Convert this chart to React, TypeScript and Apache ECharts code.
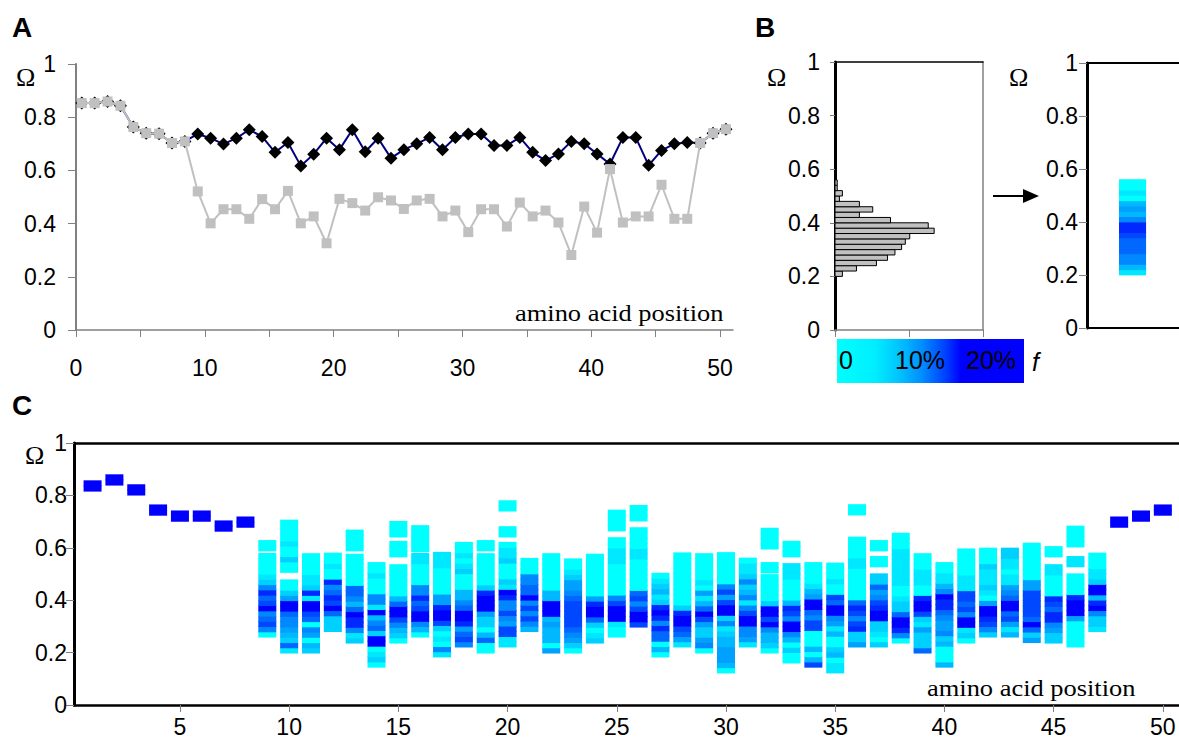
import React, { useEffect, useRef } from "react";
import * as echarts from "echarts";

// ---------- Panel A : Omega per amino acid position ----------
const sitesA = [0,1,2,3,4,5,6,7,8,9,10,11,12,13,14,15,16,17,18,19,20,21,22,23,24,25,26,27,28,29,30,31,32,33,34,35,36,37,38,39,40,41,42,43,44,45,46,47,48,49,50];
const omegaDiamond = [0.853,0.853,0.859,0.843,0.763,0.740,0.738,0.703,0.709,
  0.737,0.721,0.699,0.721,0.753,0.727,0.668,0.705,0.617,0.661,0.721,0.678,0.753,0.670,0.721,0.646,
  0.678,0.700,0.724,0.678,0.724,0.737,0.737,0.694,0.694,0.724,0.668,0.637,0.662,0.709,0.700,0.662,0.624,0.724,0.724,0.619,0.675,0.700,0.705,
  0.703,0.740,0.755];
const omegaSquare = [0.853,0.853,0.859,0.843,0.763,0.740,0.738,0.703,0.709,
  0.521,0.401,0.454,0.454,0.418,0.492,0.454,0.523,0.401,0.427,0.326,0.493,0.477,0.449,0.499,0.487,
  0.455,0.487,0.493,0.427,0.449,0.368,0.454,0.454,0.389,0.479,0.427,0.449,0.404,0.282,0.464,0.366,0.605,0.404,0.427,0.427,0.546,0.418,0.418,
  0.703,0.740,0.755];
const xTicksA = [0,5,10,15,20,25,30,35,40,45,50];
const xLabelsA = [0,10,20,30,40,50];

// ---------- Panel B : histogram of Omega and pooled column ----------
const histOmegaLow = [0.20,0.22,0.24,0.26,0.28,0.30,0.32,0.34,0.36,0.38,0.40,0.42,0.44,0.46,0.48,0.50,0.52,0.54];
const histFreqPct = [1.0,2.9,5.6,7.1,8.1,9.0,9.5,10.1,13.4,12.6,7.5,3.3,5.1,3.3,0.6,1.0,0.3,0.3];
const histXTicks = [0,10,20];
// pooled column: [x in box, bottom Omega, colour level (0 = cyan … 9 = blue) of each 0.02 bin upward]
const pooledBlocks: [number, number, string][] = [[0.495, 0.20, "135566678853430100"]];

// ---------- Panel C : per-position distributions ----------
// [position, bottom Omega of block, colour level of each 0.02 bin upward]
const cBlocks: [number, number, string][] = [
  [1,0.816,"99"],[2,0.839,"99"],[3,0.801,"99"],[4,0.724,"99"],[5,0.701,"99"],[6,0.701,"99"],[7,0.663,"99"],[8,0.678,"99"],
  [9,0.259,"0576597685210000"],[9,0.588,"00"],
  [10,0.198,"16234556994200"],[10,0.506,"0020010000"],
  [11,0.198,"2304506799182110000"],
  [12,0.280,"222697865800100"],
  [13,0.236,"21588963566000000"],[13,0.588,"0000"],
  [14,0.144,"02109926539155000100"],
  [15,0.236,"023579963000000"],[15,0.565,"000"],[15,0.641,"000"],
  [16,0.259,"0359976855000011"],[16,0.585,"00000"],
  [17,0.183,"15010279984400000111"],
  [18,0.221,"57648996533000210100"],
  [19,0.198,"0063022499982000000"],[19,0.588,"00"],
  [20,0.221,"11774575589120002110"],[20,0.641,"00"],[20,0.740,"00"],
  [21,0.280,"35757596655000"],
  [22,0.198,"4033343999330000000"],
  [23,0.198,"024567777765442100"],
  [24,0.236,"21026998400000000"],
  [25,0.259,"0019997500000011100"],[25,0.664,"0000"],
  [26,0.297,"7997576000000110000"],[26,0.702,"000"],
  [27,0.183,"0306685898213210"],
  [28,0.221,"146799820000000000"],
  [29,0.198,"0542247963140100000"],
  [30,0.122,"03444332152997475000000"],
  [31,0.221,"14559975153252110"],
  [32,0.198,"023359799200000"],[32,0.504,"00"],[32,0.595,"0000"],
  [33,0.160,"0020359957830000111"],[33,0.565,"000"],
  [34,0.144,"73030007756994310000"],
  [35,0.122,"110320031459967001000"],
  [36,0.221,"422875786000000110000"],[36,0.725,"00"],
  [37,0.221,"20122998754622"],[37,0.527,"00"],[37,0.588,"00"],
  [38,0.236,"058996221001111111000"],
  [39,0.198,"6222412799800111000"],
  [40,0.144,"30003254456889531100"],
  [41,0.236,"021995767711100000"],
  [42,0.259,"25789940121112000"],
  [43,0.259,"31476996541101122"],
  [44,0.238,"4269677777440000000"],
  [45,0.236,"224588678000011"],[45,0.565,"00"],
  [46,0.221,"00000499980000"],[46,0.527,"11"],[46,0.603,"0000"],
  [47,0.280,"122598399211000"],
  [48,0.678,"99"],[49,0.701,"99"],[50,0.724,"99"],
];
const xTicksC = [5,10,15,20,25,30,35,40,45,50];
// colour for levels 0..9
const levelColors = ["#00FFFF","#00E8FF","#00D0FF","#00B8FF","#00A0FF","#0088FF","#0068FF","#0048FF","#0028FF","#0000FF"];

const BIN = 0.02;
const SANS = "Liberation Sans, Arial, sans-serif";
const SERIF = "Liberation Serif, Times New Roman, serif";

function blocksToCells(blocks: [number, number, string][]) {
  const out: number[][] = [];
  blocks.forEach(([x, bottom, levels]) => {
    for (let j = 0; j < levels.length; j++) {
      const lo = bottom + j * BIN;
      out.push([x, lo, lo + BIN, Number(levels[j])]);
    }
  });
  return out;
}

function cellRender(halfW: number) {
  return (params: any, api: any) => {
    const x = api.value(0), lo = api.value(1), hi = api.value(2);
    const a = api.coord([x - halfW, hi]);
    const b = api.coord([x + halfW, lo]);
    return {
      type: "rect",
      shape: { x: a[0], y: a[1] - 0.4, width: b[0] - a[0], height: b[1] - a[1] + 0.8 },
      style: { fill: api.visual("color") },
    };
  };
}

const labelStyle = { fontFamily: SANS, fontSize: 23, color: "#000" };
const hidden = { axisTick: { show: false }, axisLabel: { show: false }, splitLine: { show: false } };

function txt(text: string, x: number, y: number, opts: any = {}) {
  const { scaleX, ...st } = opts;
  return {
    type: "text",
    x, y,
    scaleX: scaleX ?? 1,
    style: {
      text,
      fill: "#000",
      fontFamily: SANS,
      fontSize: 23,
      textAlign: "left",
      align: "left",
      textVerticalAlign: "middle",
      verticalAlign: "middle",
      ...st,
    },
  };
}

export default function App() {
  const ref = useRef<HTMLDivElement>(null);
  useEffect(() => {
    if (!ref.current) return;
    const chart = echarts.init(ref.current, undefined, { renderer: "svg" });
    const fmt = (v: number) => String(+Number(v).toFixed(2));

    const option: any = {
      animation: false,
      backgroundColor: "#fff",
      grid: [
        { left: 76, top: 64, width: 657, height: 266 },
        { left: 835, top: 62, width: 148, height: 268 },
        { left: 1087, top: 63, width: 92, height: 265 },
        { left: 74, top: 443, width: 1105, height: 263 },
      ],
      xAxis: [
        {
          gridIndex: 0, type: "value", min: 0, max: 51,
          axisLine: { lineStyle: { color: "#808080", width: 1.5 } },
          axisTick: { length: 7, lineStyle: { color: "#808080" }, customValues: xTicksA },
          axisLabel: { ...labelStyle, margin: 26, customValues: xLabelsA, formatter: fmt },
          splitLine: { show: false },
        },
        {
          gridIndex: 1, type: "value", min: 0, max: 20,
          axisLine: { lineStyle: { color: "#808080", width: 1.5 } },
          axisTick: { length: 7, lineStyle: { color: "#808080" }, customValues: histXTicks },
          axisLabel: { show: false },
          splitLine: { show: false },
        },
        {
          gridIndex: 1, type: "value", min: 0, max: 20, position: "top",
          axisLine: { show: true, onZero: false, lineStyle: { color: "#000", width: 1.5 } },
          ...hidden,
        },
        {
          gridIndex: 2, type: "value", min: 0, max: 1,
          axisLine: { show: true, lineStyle: { color: "#000", width: 2 } },
          ...hidden,
        },
        {
          gridIndex: 2, type: "value", min: 0, max: 1, position: "top",
          axisLine: { show: true, onZero: false, lineStyle: { color: "#000", width: 2 } },
          ...hidden,
        },
        {
          gridIndex: 3, type: "value", min: 0.15, max: 50.74,
          axisLine: { lineStyle: { color: "#000", width: 2.5 } },
          axisTick: { length: 7, lineStyle: { color: "#808080" }, customValues: xTicksC },
          axisLabel: { ...labelStyle, margin: 10, customValues: xTicksC, formatter: fmt },
          splitLine: { show: false },
        },
        {
          gridIndex: 3, type: "value", min: 0.15, max: 50.74, position: "top",
          axisLine: { show: true, onZero: false, lineStyle: { color: "#000", width: 2.5 } },
          ...hidden,
        },
      ],
      yAxis: [
        {
          gridIndex: 0, type: "value", min: 0, max: 1, interval: 0.2,
          axisLine: { show: true, lineStyle: { color: "#808080", width: 2 } },
          axisTick: { show: true, length: 8, lineStyle: { color: "#808080" } },
          axisLabel: { ...labelStyle, margin: 20, formatter: fmt },
          splitLine: { show: false },
        },
        {
          gridIndex: 1, type: "value", min: 0, max: 1, interval: 0.2,
          axisLine: { show: true, lineStyle: { color: "#000", width: 3 } },
          axisTick: { show: true, length: 5, lineStyle: { color: "#808080" } },
          axisLabel: { ...labelStyle, margin: 15, formatter: fmt },
          splitLine: { show: false },
        },
        {
          gridIndex: 1, type: "value", min: 0, max: 1, position: "right",
          axisLine: { show: true, onZero: false, lineStyle: { color: "#808080", width: 1.5 } },
          ...hidden,
        },
        {
          gridIndex: 2, type: "value", min: 0, max: 1, interval: 0.2,
          axisLine: { show: true, lineStyle: { color: "#000", width: 3 } },
          axisTick: { show: true, length: 8, lineStyle: { color: "#808080" } },
          axisLabel: { ...labelStyle, margin: 9, formatter: fmt },
          splitLine: { show: false },
        },
        {
          gridIndex: 3, type: "value", min: 0, max: 1, interval: 0.2,
          axisLine: { show: true, lineStyle: { color: "#000", width: 3 } },
          axisTick: { show: true, length: 8, lineStyle: { color: "#808080" } },
          axisLabel: { ...labelStyle, margin: 7, formatter: fmt },
          splitLine: { show: false },
        },
      ],
      visualMap: {
        type: "continuous", show: false, min: 0, max: 9, dimension: 3,
        seriesIndex: [3, 4],
        inRange: { color: levelColors },
      },
      series: [
        {
          type: "line", xAxisIndex: 0, yAxisIndex: 0, z: 2,
          data: sitesA.map((s, i) => [s + 0.45, omegaDiamond[i]]),
          symbol: "diamond", symbolSize: 13,
          itemStyle: { color: "#000" },
          lineStyle: { color: "#000080", width: 2 },
        },
        {
          type: "line", xAxisIndex: 0, yAxisIndex: 0, z: 3,
          data: sitesA.map((s, i) => [s + 0.45, omegaSquare[i]]),
          symbol: "rect", symbolSize: 10,
          itemStyle: { color: "#C0C0C0" },
          lineStyle: { color: "#C0C0C0", width: 2 },
        },
        {
          type: "custom", xAxisIndex: 1, yAxisIndex: 1,
          data: histOmegaLow.map((lo, i) => [histFreqPct[i], lo, lo + BIN]),
          encode: { x: 0, y: [1, 2] },
          renderItem: (params: any, api: any) => {
            const a = api.coord([0, api.value(2)]);
            const b = api.coord([api.value(0), api.value(1)]);
            return {
              type: "rect",
              shape: { x: a[0], y: a[1], width: b[0] - a[0], height: b[1] - a[1] },
              style: { fill: "#C0C0C0", stroke: "#000", lineWidth: 1 },
            };
          },
        },
        {
          type: "custom", xAxisIndex: 3, yAxisIndex: 3,
          data: blocksToCells(pooledBlocks),
          encode: { x: 0, y: [1, 2] },
          renderItem: cellRender(0.147),
        },
        {
          type: "custom", xAxisIndex: 5, yAxisIndex: 4,
          data: blocksToCells(cBlocks),
          encode: { x: 0, y: [1, 2] },
          renderItem: cellRender(0.412),
        },
      ],
      graphic: {
        elements: [
          txt("A", 12, 27, { fontSize: 28, fontWeight: "bold" }),
          txt("B", 755, 27, { fontSize: 28, fontWeight: "bold" }),
          txt("C", 12, 405, { fontSize: 28, fontWeight: "bold" }),
          txt("Ω", 16, 77, { fontFamily: SERIF, fontSize: 26 }),
          txt("Ω", 767, 77, { fontFamily: SERIF, fontSize: 26 }),
          txt("Ω", 1009, 77, { fontFamily: SERIF, fontSize: 26 }),
          txt("Ω", 25, 455, { fontFamily: SERIF, fontSize: 26 }),
          txt("amino acid position", 515, 313, { fontFamily: SERIF, fontSize: 23, scaleX: 1.15 }),
          txt("amino acid position", 927, 688, { fontFamily: SERIF, fontSize: 23, scaleX: 1.15 }),
          {
            type: "line",
            shape: { x1: 993, y1: 196, x2: 1026, y2: 196 },
            style: { stroke: "#000", lineWidth: 2 },
          },
          {
            type: "polygon",
            shape: { points: [[1023, 189], [1039, 196], [1023, 203]] },
            style: { fill: "#000" },
          },
          {
            type: "rect",
            shape: { x: 837, y: 339, width: 187, height: 44 },
            style: {
              fill: new echarts.graphic.LinearGradient(0, 0, 1, 0, [
                { offset: 0, color: "#00FFFF" },
                { offset: 0.2, color: "#00EEFF" },
                { offset: 0.32, color: "#00C8FF" },
                { offset: 0.45, color: "#0090FF" },
                { offset: 0.58, color: "#0040FF" },
                { offset: 0.663, color: "#0000FF" },
                { offset: 1, color: "#0000FF" },
              ]),
            },
          },
          txt("0", 839, 360, { fontSize: 25 }),
          txt("10%", 895, 360, { fontSize: 25 }),
          txt("20%", 966, 360, { fontSize: 25 }),
          txt("f", 1032, 362, { fontSize: 25, fontStyle: "italic" }),
        ],
      },
    };
    chart.setOption(option);
    return () => chart.dispose();
  }, []);
  return (
    <div
      ref={ref}
      style={{ position: "fixed", left: 0, top: 0, width: 1179, height: 738, background: "#fff" }}
    />
  );
}
